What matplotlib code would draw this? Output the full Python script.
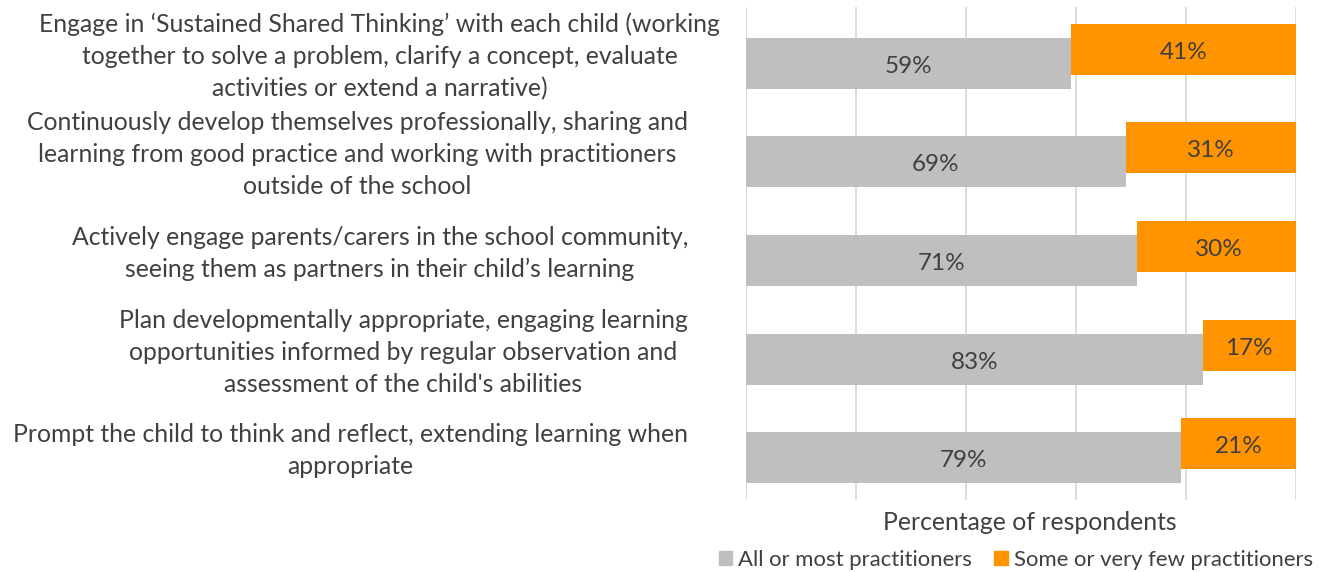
import matplotlib
matplotlib.use("Agg")
import matplotlib.pyplot as plt
from matplotlib.patches import Patch
from matplotlib.transforms import blended_transform_factory

plt.rcParams["font.family"] = ["Lato", "DejaVu Sans"]

# ---------------------------
# Data
# ---------------------------

categories = [
    "Engage in \u2018Sustained Shared Thinking\u2019 with each child (working\n"
    "together to solve a problem, clarify a concept, evaluate\n"
    "activities or extend a narrative)",
    "Continuously develop themselves professionally, sharing and\n"
    "learning from good practice and working with practitioners\n"
    "outside of the school",
    "Actively engage parents/carers in the school community,\n"
    "seeing them as partners in their child\u2019s learning",
    "Plan developmentally appropriate, engaging learning\n"
    "opportunities informed by regular observation and\n"
    "assessment of the child's abilities",
    "Prompt the child to think and reflect, extending learning when\n"
    "appropriate",
]
all_most = [59, 69, 71, 83, 79]
some_few = [41, 31, 30, 17, 21]
series_names = ["All or most practitioners", "Some or very few practitioners"]

grey = "#bfbfbf"
orange = "#ff9300"
text_col = "#404040"

# ---------------------------
# Figure
# ---------------------------

fig = plt.figure(figsize=(13.3, 5.72), dpi=100)
ax = fig.add_axes([746 / 1330, 1 - 500 / 572, 550 / 1330, 493 / 572])

bar_h = 0.517
shift = 0.071

for i in range(len(categories)):
    ax.barh(i + shift, all_most[i], height=bar_h, color=grey, zorder=2)
    ax.barh(i - shift, some_few[i], left=all_most[i], height=bar_h,
            color=orange, zorder=2)
    ax.text(all_most[i] / 2, i + shift + 0.03, f"{all_most[i]}%",
            ha="center", va="center", fontsize=17.5, color=text_col, zorder=3)
    ax.text(all_most[i] + some_few[i] / 2, i - shift + 0.03, f"{some_few[i]}%",
            ha="center", va="center", fontsize=17.5, color=text_col, zorder=3)

ax.set_xlim(0, 100)
ax.set_ylim(len(categories) - 0.5, -0.5)
ax.set_xticks(range(0, 101, 20))
ax.grid(axis="x", color="#d9d9d9", linewidth=1.3, zorder=0)
ax.tick_params(axis="both", length=0, labelbottom=False, labelleft=False)
for s in ax.spines.values():
    s.set_visible(False)

# category labels on the left
label_right = [720, 688, 688, 688, 688]
trans = blended_transform_factory(fig.transFigure, ax.transData)
for i, lab in enumerate(categories):
    fig.text(label_right[i] / 1330, i, lab, transform=trans, ha="right",
             va="center", multialignment="center", fontsize=17.8,
             color=text_col, linespacing=1.47)

fig.text(1030 / 1330, 1 - 522 / 572, "Percentage of respondents",
         ha="center", va="center", fontsize=17.8, color=text_col)

handles = [Patch(color=grey), Patch(color=orange)]
fig.legend(handles, series_names, loc="center",
           bbox_to_anchor=(1016 / 1330, 1 - 560 / 572), ncol=2,
           frameon=False, fontsize=15.9, labelcolor=text_col,
           handlelength=0.6, handleheight=0.6, handletextpad=0.3,
           columnspacing=1.0)

plt.savefig("out.png", dpi=100)
